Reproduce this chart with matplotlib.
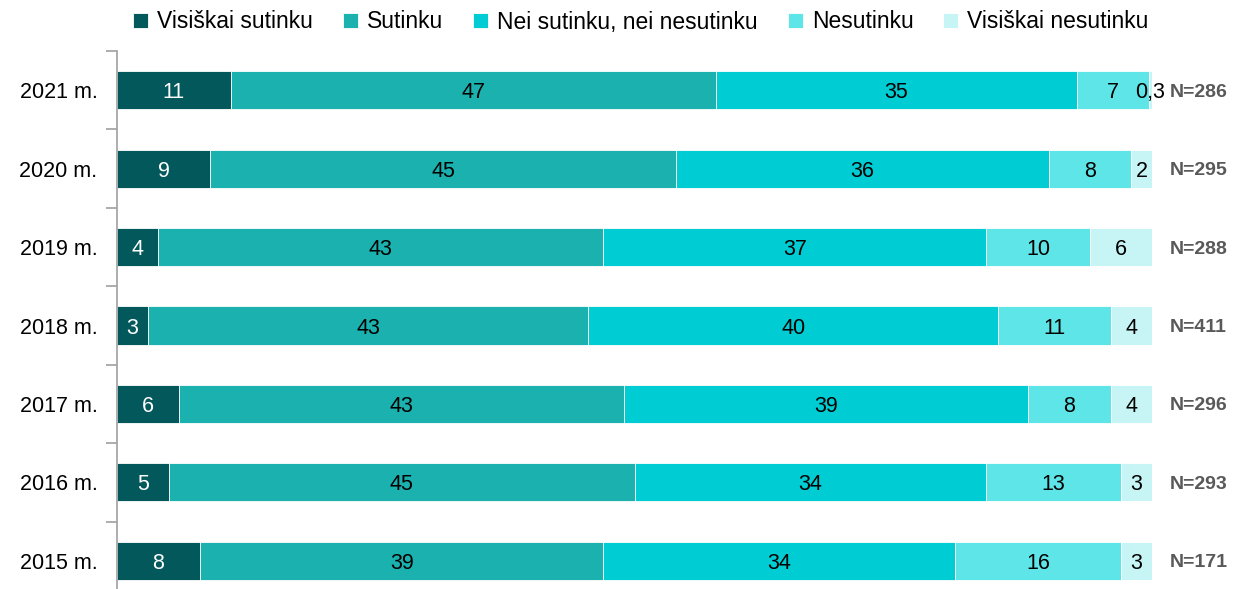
import matplotlib
matplotlib.use("Agg")
import matplotlib.pyplot as plt
import numpy as np

plt.rcParams['font.family'] = ['Liberation Sans', 'DejaVu Sans']

years = ["2021 m.", "2020 m.", "2019 m.", "2018 m.", "2017 m.", "2016 m.", "2015 m."]
series_names = ["Visiškai sutinku", "Sutinku", "Nei sutinku, nei nesutinku", "Nesutinku", "Visiškai nesutinku"]
visiskai_sutinku = [11, 9, 4, 3, 6, 5, 8]
sutinku = [47, 45, 43, 43, 43, 45, 39]
nei = [35, 36, 37, 40, 39, 34, 34]
nesutinku = [7, 8, 10, 11, 8, 13, 16]
visiskai_nesutinku = [0.3, 2, 6, 4, 4, 3, 3]
value_labels = [
    ["11", "47", "35", "7", "0,3"],
    ["9", "45", "36", "8", "2"],
    ["4", "43", "37", "10", "6"],
    ["3", "43", "40", "11", "4"],
    ["6", "43", "39", "8", "4"],
    ["5", "45", "34", "13", "3"],
    ["8", "39", "34", "16", "3"],
]
n_labels = ["N=286", "N=295", "N=288", "N=411", "N=296", "N=293", "N=171"]

colors = ["#03585B", "#1BB1AE", "#00CDD3", "#5EE5E7", "#C7F5F6"]
text_colors = ["white", "black", "black", "black", "black"]

data = np.array([visiskai_sutinku, sutinku, nei, nesutinku, visiskai_nesutinku], dtype=float)
totals = data.sum(axis=0)
norm = data / totals * 100

fig = plt.figure(figsize=(12.56, 5.89), dpi=100)
ax = fig.add_axes([117/1256, 1 - 600/589, (1152-117)/1256, (600-51)/589])

y = np.arange(len(years))
left = np.zeros(len(years))
for i, name in enumerate(series_names):
    ax.barh(y, norm[i], left=left, height=0.485, color=colors[i], label=name,
            edgecolor='white', linewidth=0.6)
    for j in range(len(years)):
        cx = left[j] + norm[i][j] / 2
        ax.text(cx, y[j], value_labels[j][i], ha='center', va='center_baseline',
                fontsize=15.5, color=text_colors[i])
    left += norm[i]

for j in range(len(years)):
    ax.text(101.7, y[j], n_labels[j], ha='left', va='center_baseline', fontsize=14,
            fontweight='bold', color='#595959', clip_on=False)

ax.set_xlim(0, 100)
ax.set_ylim(len(years) - 0.5, -0.5)
ax.set_yticks(y)
ax.set_yticklabels(years, fontsize=15.5)
ax.tick_params(axis='y', which='major', length=0, pad=14)
ax.set_yticks(np.arange(-0.5, len(years), 1.0), minor=True)
ax.tick_params(axis='y', which='minor', length=8, color='#A0A0A0', width=1.2)
ax.set_xticks([])
for s in ['top', 'right', 'bottom']:
    ax.spines[s].set_visible(False)
ax.spines['left'].set_color('#A0A0A0')
ax.spines['left'].set_linewidth(1.2)

leg = fig.legend(loc='center', bbox_to_anchor=(641/1256, 1 - 22/589), ncol=5,
                 frameon=False, fontsize=16.5, handlelength=0.65, handleheight=0.65,
                 handletextpad=0.4, columnspacing=1.3)

fig.savefig("out.png", dpi=100)
